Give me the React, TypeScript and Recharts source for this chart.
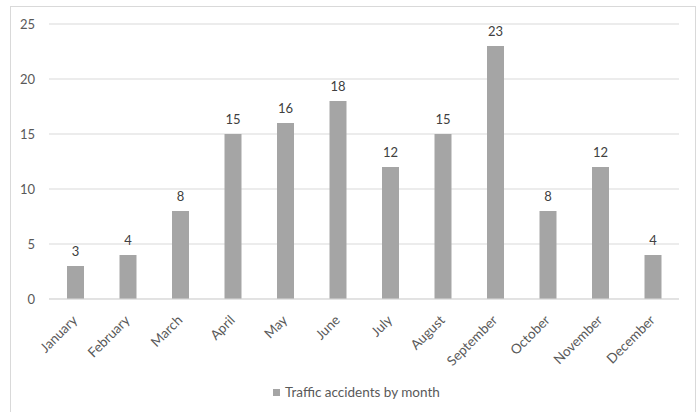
import { BarChart, Bar, XAxis, YAxis, CartesianGrid, Legend, LabelList } from "recharts";

const months = [
  "January",
  "February",
  "March",
  "April",
  "May",
  "June",
  "July",
  "August",
  "September",
  "October",
  "November",
  "December",
];
const accidents = [3, 4, 8, 15, 16, 18, 12, 15, 23, 8, 12, 4];
const yTicks = [0, 5, 10, 15, 20, 25];
const seriesName = "Traffic accidents by month";

const data = months.map((month, i) => ({ month, accidents: accidents[i] }));

const FONT = "Lato, 'Open Sans', sans-serif";
const TEXT = "#595959";
const GRID = "#d9d9d9";
const BAR = "#a5a5a5";

// month names slanted 45° so the end of each name sits under its bar
function MonthTick({ x, y, payload }: any) {
  const ax = x + 3;
  const ay = y + 14;
  return (
    <text
      x={ax}
      y={ay}
      transform={`rotate(-45, ${ax}, ${ay})`}
      textAnchor="end"
      fontSize={13.5}
      fontFamily={FONT}
      fill={TEXT}
    >
      {payload.value}
    </text>
  );
}

function LegendContent() {
  return (
    <div
      style={{
        display: "flex",
        alignItems: "center",
        height: 20,
        paddingLeft: 273,
        fontFamily: FONT,
        fontSize: 13.5,
        color: TEXT,
      }}
    >
      <span style={{ width: 7, height: 7, background: BAR, marginRight: 5, display: "inline-block" }} />
      <span>{seriesName}</span>
    </div>
  );
}

export default function App() {
  return (
    <div style={{ position: "absolute", left: 0, top: 0, width: 699, height: 412, overflow: "hidden", background: "#fff" }}>
      <div
        style={{
          position: "absolute",
          left: 10,
          top: 6,
          width: 686,
          height: 440,
          border: `1px solid ${GRID}`,
          boxSizing: "border-box",
        }}
      />
      <BarChart
        width={699}
        height={412}
        data={data}
        margin={{ top: 24, right: 20, bottom: 10, left: 0 }}
        style={{ position: "absolute", left: 0, top: 0 }}
      >
        <CartesianGrid vertical={false} stroke={GRID} />
        <XAxis
          dataKey="month"
          interval={0}
          height={83}
          tickLine={false}
          axisLine={{ stroke: GRID }}
          tick={<MonthTick />}
        />
        <YAxis
          width={49}
          domain={[0, 25]}
          ticks={yTicks}
          axisLine={false}
          tickLine={false}
          tickMargin={8}
          tick={{ fontSize: 13, fontFamily: FONT, fill: TEXT }}
        />
        <Legend
          verticalAlign="bottom"
          wrapperStyle={{ left: 0, width: 699, height: 20 }}
          content={<LegendContent />}
        />
        <Bar dataKey="accidents" name={seriesName} fill={BAR} barSize={17} isAnimationActive={false}>
          <LabelList
            dataKey="accidents"
            position="top"
            offset={10}
            fontSize={13}
            fontFamily={FONT}
            fill="#404040"
          />
        </Bar>
      </BarChart>
    </div>
  );
}
